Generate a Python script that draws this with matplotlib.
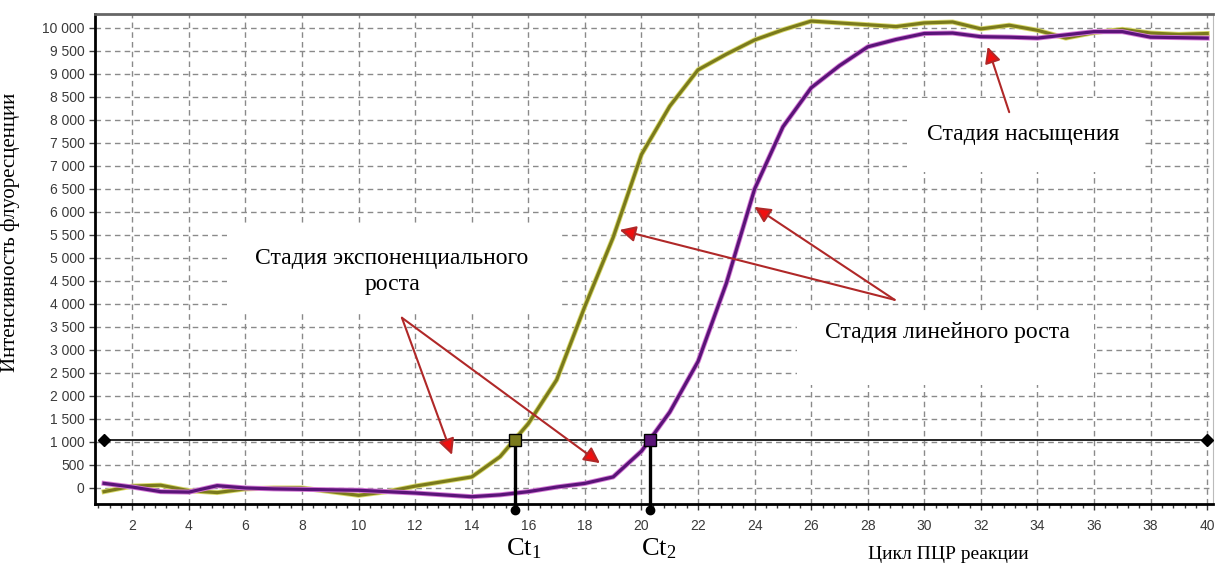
import matplotlib
matplotlib.use('Agg')
import matplotlib.pyplot as plt
import matplotlib.patheffects as pe
from matplotlib.patches import Rectangle
from matplotlib.ticker import MultipleLocator, FuncFormatter

# PCR cycles and fluorescence of the two samples
cycles = list(range(1, 41))
sample_1 = [-80, 40, 60, -60, -100, -20, 0, 0, -80, -160,
            -80, 40, 140, 240, 680, 1400, 2350, 3950, 5450, 7250,
            8300, 9090, 9430, 9740, 9960, 10150, 10110, 10070, 10030, 10110,
            10130, 9980, 10060, 9950, 9780, 9900, 9970, 9890, 9860, 9880]
sample_2 = [100, 20, -80, -90, 50, 0, -20, -30, -40, -50,
            -80, -110, -150, -190, -150, -80, 20, 100, 240, 800,
            1650, 2750, 4450, 6500, 7850, 8700, 9180, 9590, 9750, 9880,
            9890, 9810, 9800, 9780, 9850, 9920, 9920, 9800, 9790, 9780]
threshold = 1050
ct_values = [15.52, 20.29]
ct_labels = ['Ct$_1$', 'Ct$_2$']
colors = ['#7a7a1c', '#5a1478']
glows = ['#d9d96a', '#d77bd7']

serif = ['Liberation Serif', 'DejaVu Serif']
plt.rcParams['mathtext.fontset'] = 'custom'
plt.rcParams['mathtext.rm'] = 'Liberation Serif'
plt.rcParams['mathtext.it'] = 'Liberation Serif'

fig = plt.figure(figsize=(12.15, 5.67), dpi=100)
ax = fig.add_axes([0.0782, 0.111, 0.9205, 0.864])
ax.set_xlim(0.68, 40.22)
ax.set_ylim(-350, 10300)

# grid
ax.xaxis.set_major_locator(MultipleLocator(2))
ax.xaxis.set_minor_locator(MultipleLocator(0.4))
ax.yaxis.set_major_locator(MultipleLocator(500))
ax.grid(True, which='major', color='#8a8a8a', linestyle=(0, (4, 3)), lw=1.0, zorder=0)
ax.set_axisbelow(True)
ax.yaxis.set_major_formatter(FuncFormatter(lambda v, p: f'{int(v):,}'.replace(',', ' ')))
ax.tick_params(axis='both', which='major', labelsize=10, labelcolor='#3a3a3a',
               length=4, width=1, colors='#3a3a3a')
ax.tick_params(axis='x', which='major', pad=7)
ax.tick_params(axis='x', which='minor', length=3, width=1, colors='#3a3a3a')
for lab in ax.get_xticklabels() + ax.get_yticklabels():
    lab.set_fontfamily('Liberation Sans')

for s in ['left', 'bottom']:
    ax.spines[s].set_linewidth(2)
    ax.spines[s].set_color('black')
ax.spines['top'].set_color('#666666')
ax.spines['top'].set_linewidth(2)
ax.spines['right'].set_color('#bbbbbb')

# white boxes that hide the grid behind the labels
boxes = [(5.35, 3826, 11.69, 1870), (25.5, 2240, 10.5, 1590), (29.4, 6870, 8.4, 1610)]
for x0, y0, w, h in boxes:
    ax.add_patch(Rectangle((x0, y0), w, h, facecolor='white', edgecolor='none', zorder=1))

# curves
for vals, c, g in zip([sample_1, sample_2], colors, glows):
    ax.plot(cycles, vals, color=c, lw=2.3, zorder=3,
            path_effects=[pe.Stroke(linewidth=3.6, foreground=g), pe.Normal()])

# threshold line
ax.plot([cycles[0], cycles[-1]], [threshold, threshold], color='black', lw=1.2,
        marker='D', ms=6, zorder=4, clip_on=False)

# Ct markers
for ct, c, lab in zip(ct_values, colors, ct_labels):
    ax.plot([ct, ct], [threshold, -470], color='black', lw=2.4, zorder=4, clip_on=False)
    ax.plot([ct], [-470], 'o', color='black', ms=6, zorder=5, clip_on=False)
    ax.plot([ct], [threshold], 's', mfc=c, mec='black', mew=1, ms=8, zorder=6)
    ax.text(ct - 0.3, -1320, lab, ha='left', va='center', fontsize=19,
            family=serif, clip_on=False)

# annotations
ax.text(11.18, 4700, 'Стадия экспоненциального\nроста', ha='center', va='center',
        fontsize=17, family=serif, linespacing=1.3, zorder=2)
ax.text(30.8, 3370, 'Стадия линейного роста', ha='center', va='center',
        fontsize=17, family=serif, zorder=2)
ax.text(33.5, 7680, 'Стадия насыщения', ha='center', va='center',
        fontsize=17, family=serif, zorder=2)

arrows = [((11.53, 3700), (13.3, 720)), ((11.53, 3700), (18.53, 540)),
          ((28.95, 4090), (19.23, 5610)), ((28.95, 4090), (24.0, 6110)),
          ((33.0, 8170), (32.24, 9590))]
for tail, head in arrows:
    ax.annotate('', xy=head, xytext=tail,
                arrowprops=dict(arrowstyle='-|>', fc='#f01010', ec='#b02828', lw=1.5,
                                mutation_scale=24, shrinkA=0, shrinkB=0), zorder=7)

ax.set_ylabel('Интенсивность флуоресценции', fontsize=15, family=serif)
ax.yaxis.set_label_coords(-0.067, 0.555)
ax.set_xlabel('Цикл ПЦР реакции', fontsize=14, family=serif)
ax.xaxis.set_label_coords(0.763, -0.085)

fig.savefig('out.png', dpi=100)
